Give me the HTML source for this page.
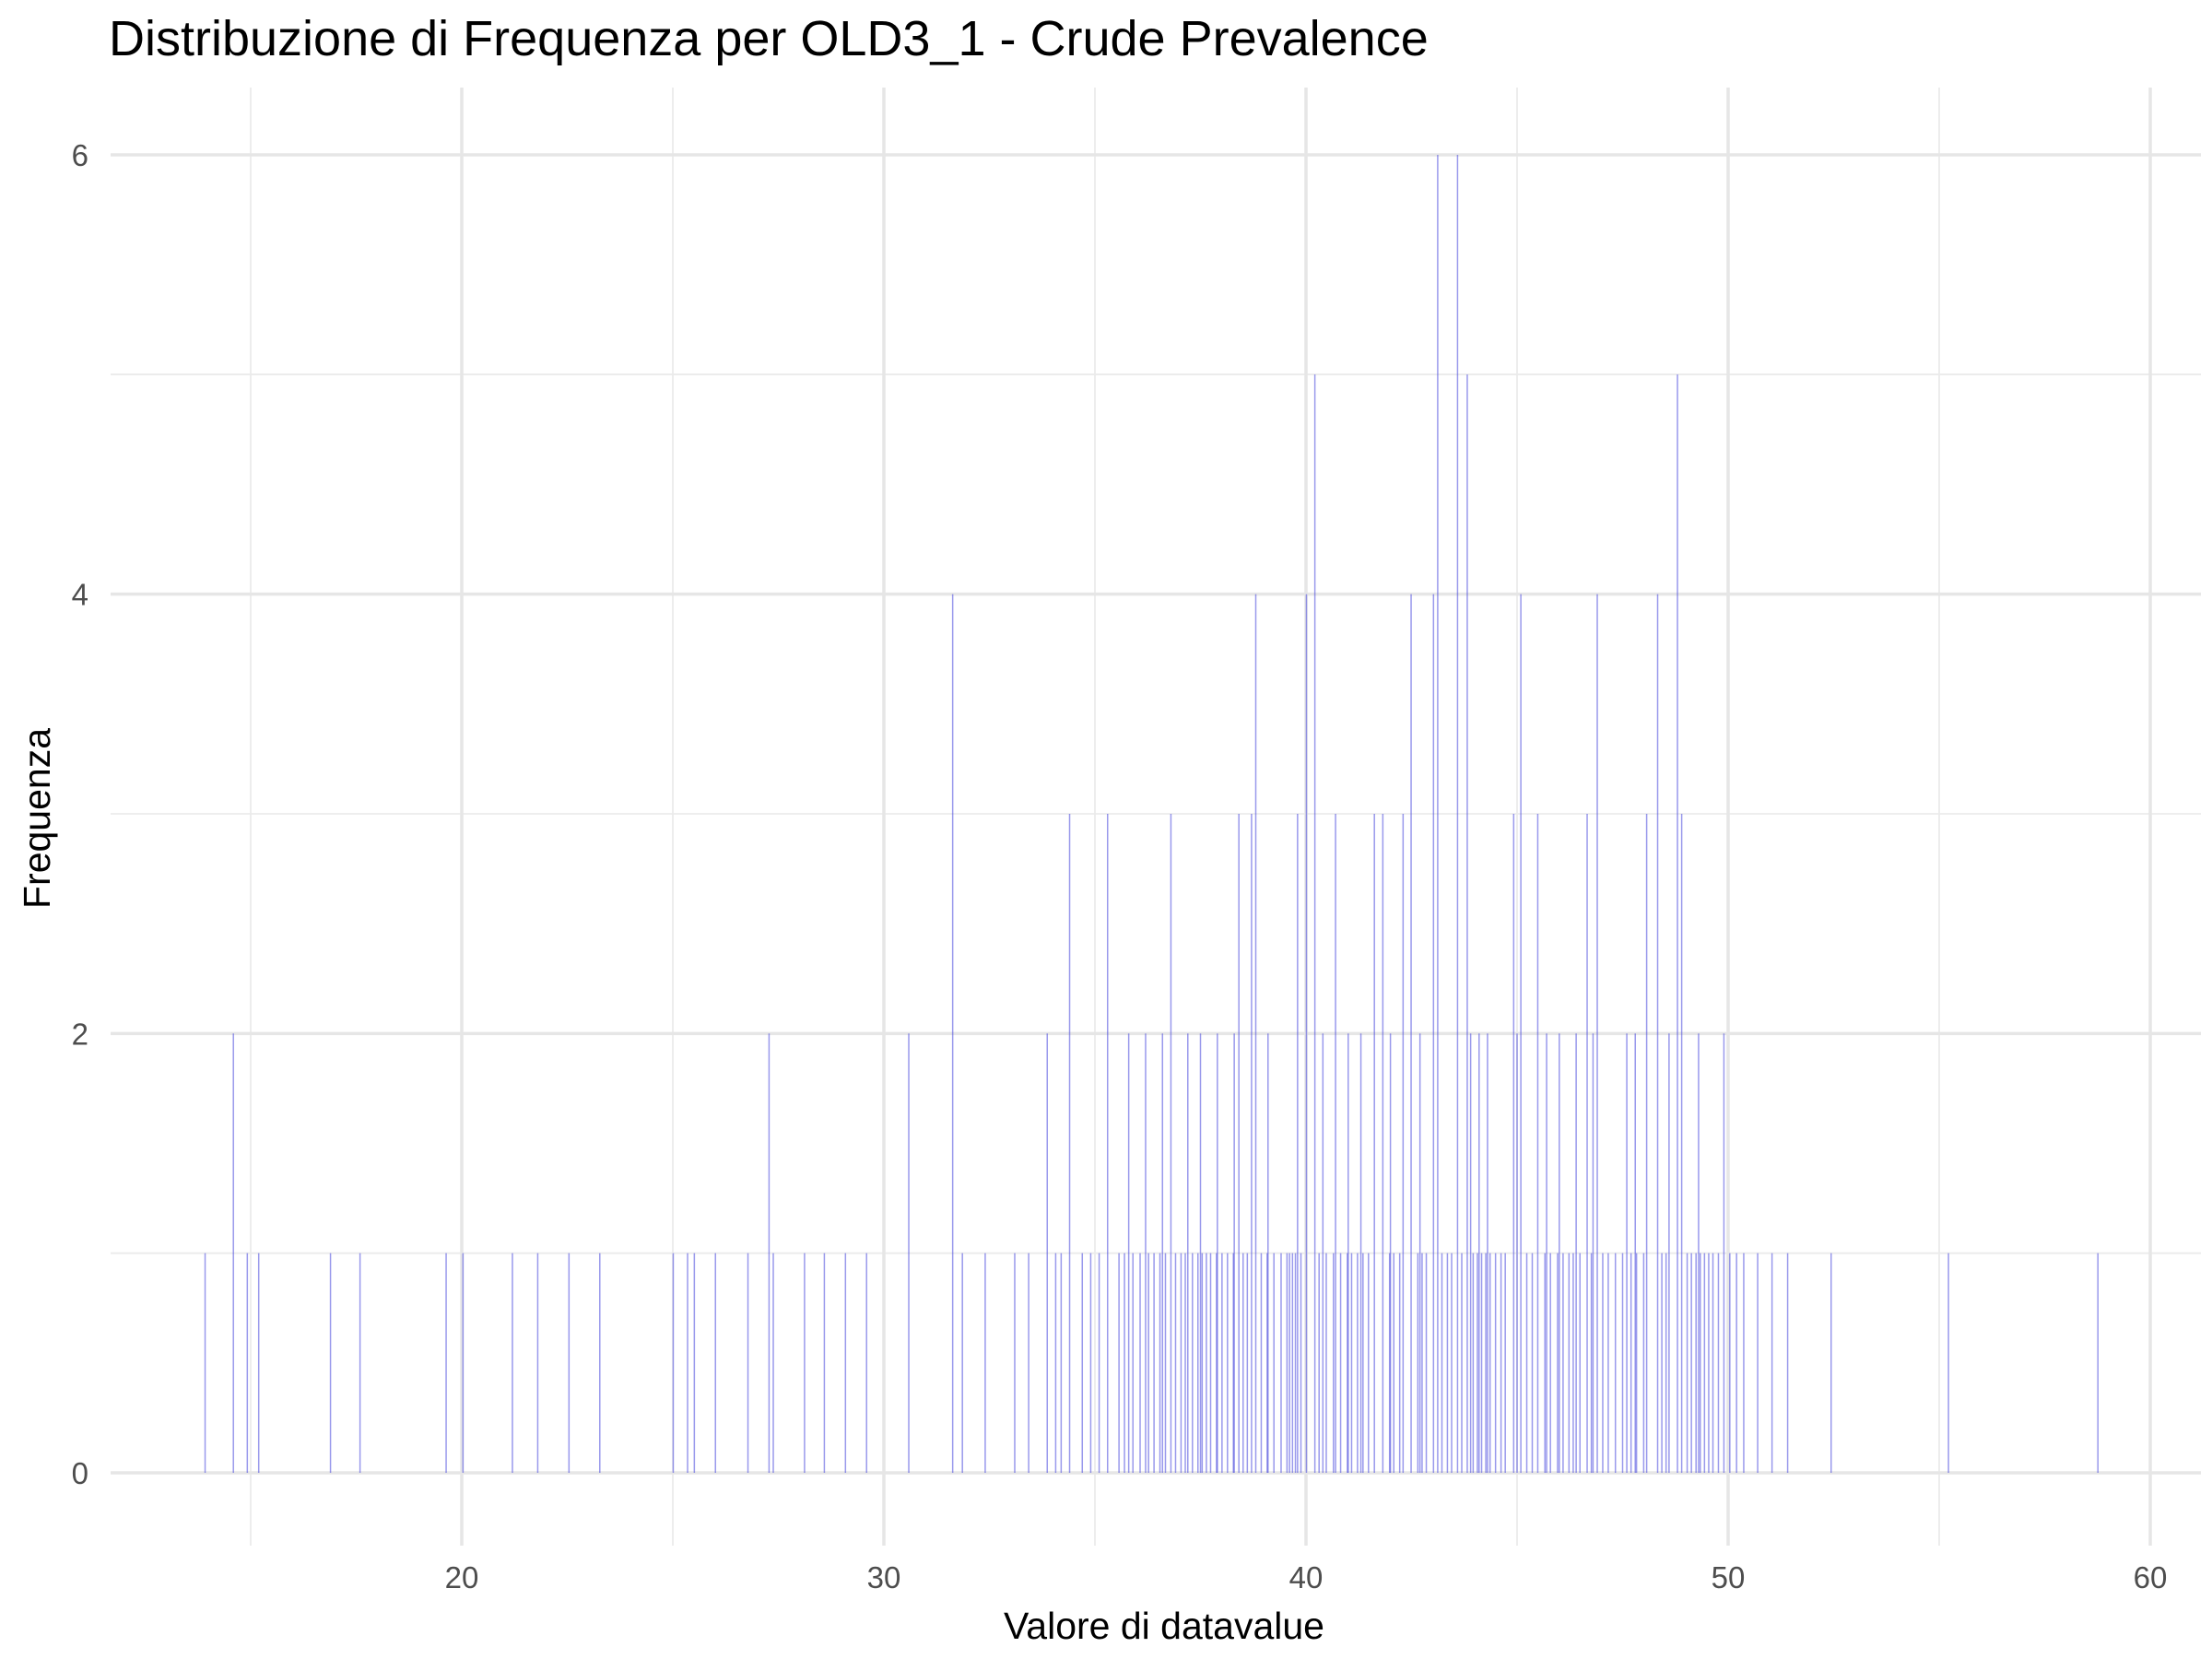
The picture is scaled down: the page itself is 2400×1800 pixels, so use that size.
<!DOCTYPE html>
<html><head><meta charset="utf-8"><style>
html,body{margin:0;padding:0;background:#fff;}
svg{display:block;font-family:"Liberation Sans",Arial,sans-serif;}
</style></head><body>
<svg id="chart" width="2400" height="1800" viewBox="0 0 2400 1800" xmlns="http://www.w3.org/2000/svg">
<rect width="2400" height="1800" fill="#fff"/>
<text x="118" y="60" font-size="54" fill="#000">Distribuzione di Frequenza per OLD3_1 - Crude Prevalence</text>
<g id="grid"></g>
<g id="bars"></g>
<g id="ticks"></g>
<text x="1263" y="1778" font-size="41" text-anchor="middle" fill="#000">Valore di datavalue</text>
<text transform="translate(54,888) rotate(-90)" font-size="41" text-anchor="middle" fill="#000">Frequenza</text>
</svg>
<script>
const xTicks=[20,30,40,50,60];
const xMinor=[15,25,35,45,55];
const yTicks=[0,2,4,6];
const yMinor=[1,3,5];
// [value, count]
const bins=[[14.59,2],[27.28,2],[30.59,2],[31.63,4],[33.87,2],[34.4,3],[35.3,3],[35.8,2],[36.8,3],[38.41,3],[38.71,3],[38.81,4],[39.8,3],[40.01,4],[40.21,5],[40.7,3],[41.62,3],[41.82,3],[42.3,3],[42.49,4],[43.02,4],[43.12,6],[43.59,6],[43.82,5],[44.92,3],[45.09,4],[45.49,3],[46.66,3],[46.9,4],[48.07,3],[48.33,4],[48.8,5],[48.9,3],[49.9,2],
[36.2,2],[36.6,2],[37.2,2],[37.5,2],[37.9,2],[38.3,2],[39.1,2],[40.4,2],[41.0,2],[41.3,2],[42.0,2],[42.7,2],[43.9,2],[44.1,2],[44.3,2],[45.0,2],[45.7,2],[46.0,2],[46.4,2],[46.8,2],[47.6,2],[47.8,2],[48.6,2],[49.3,2],
[13.92,1],[14.92,1],[15.19,1],[16.89,1],[17.59,1],[19.63,1],[20.03,1],[21.20,1],[21.80,1],[22.54,1],[23.27,1],[25.01,1],[25.35,1],[25.51,1],[26.01,1],[26.78,1],[27.38,1],[28.12,1],[28.59,1],[29.09,1],[29.59,1],[31.86,1],[32.40,1],[33.10,1],[33.43,1],[34.07,1],[34.20,1],[34.70,1],[34.90,1],[35.10,1],[35.57,1],[35.70,1],[35.90,1],[36.07,1],[36.27,1],[36.40,1],[36.54,1],[36.67,1],[36.91,1],[37.04,1],[37.14,1],[37.31,1],[37.44,1],[37.54,1],[37.64,1],[37.74,1],[37.88,1],[38.01,1],[38.14,1],[38.28,1],[38.51,1],[38.61,1],[38.94,1],[39.08,1],[39.24,1],[39.41,1],[39.55,1],[39.61,1],[39.68,1],[39.75,1],[39.88,1],[40.31,1],[40.48,1],[40.65,1],[40.82,1],[40.98,1],[41.08,1],[41.22,1],[41.35,1],[41.48,1],[41.98,1],[42.08,1],[42.22,1],[42.65,1],[42.75,1],[42.85,1],[43.22,1],[43.35,1],[43.45,1],[43.69,1],[43.96,1],[44.06,1],[44.16,1],[44.26,1],[44.36,1],[44.49,1],[44.62,1],[44.72,1],[45.23,1],[45.36,1],[45.66,1],[45.79,1],[45.96,1],[46.09,1],[46.23,1],[46.33,1],[46.49,1],[46.76,1],[47.03,1],[47.16,1],[47.33,1],[47.50,1],[47.70,1],[47.83,1],[48.00,1],[48.43,1],[48.53,1],[49.03,1],[49.13,1],[49.24,1],[49.34,1],[49.44,1],[49.54,1],[49.64,1],[49.77,1],[50.04,1],[50.20,1],[50.37,1],[50.70,1],[51.04,1],[51.41,1],[52.44,1],[55.22,1],[58.76,1]];
const NS="http://www.w3.org/2000/svg";
const PX0=120,PX1=2388,PY0=95,PY1=1677;
function xs(v){return 1417+(v-40)*45.8;}
function ys(v){return 1598-v*(1598-168)/6;}
function mk(tag,attrs,parent){const e=document.createElementNS(NS,tag);for(const k in attrs)e.setAttribute(k,attrs[k]);parent.appendChild(e);return e;}
const grid=document.getElementById('grid'),bars=document.getElementById('bars'),ticks=document.getElementById('ticks');
yMinor.forEach(v=>{const l=mk('line',{x1:PX0,x2:PX1,y1:ys(v),y2:ys(v),stroke:'#ebebeb','stroke-width':1.8},grid);

});
xMinor.forEach(v=>{const l=mk('line',{x1:xs(v),x2:xs(v),y1:PY0,y2:PY1,stroke:'#ebebeb','stroke-width':1.8},grid);

});
yTicks.forEach(v=>{const l=mk('line',{x1:PX0,x2:PX1,y1:ys(v),y2:ys(v),stroke:'#e6e6e6','stroke-width':3.5},grid);


const t=mk('text',{x:96,y:ys(v)+12,'font-size':33,'text-anchor':'end',fill:'#4d4d4d'},ticks);t.textContent=v;

});
xTicks.forEach(v=>{const l=mk('line',{x1:xs(v),x2:xs(v),y1:PY0,y2:PY1,stroke:'#e6e6e6','stroke-width':3.5},grid);


const t=mk('text',{x:xs(v),y:1723,'font-size':33,'text-anchor':'middle',fill:'#4d4d4d'},ticks);t.textContent=v;

});
bins.forEach(b=>{const v=b[0],c=b[1];
const r=mk('rect',{x:xs(v)-0.75,y:ys(c),width:1.5,height:ys(0)-ys(c),fill:'rgba(70,70,220,0.55)'},bars);

});
</script>
</body></html>
